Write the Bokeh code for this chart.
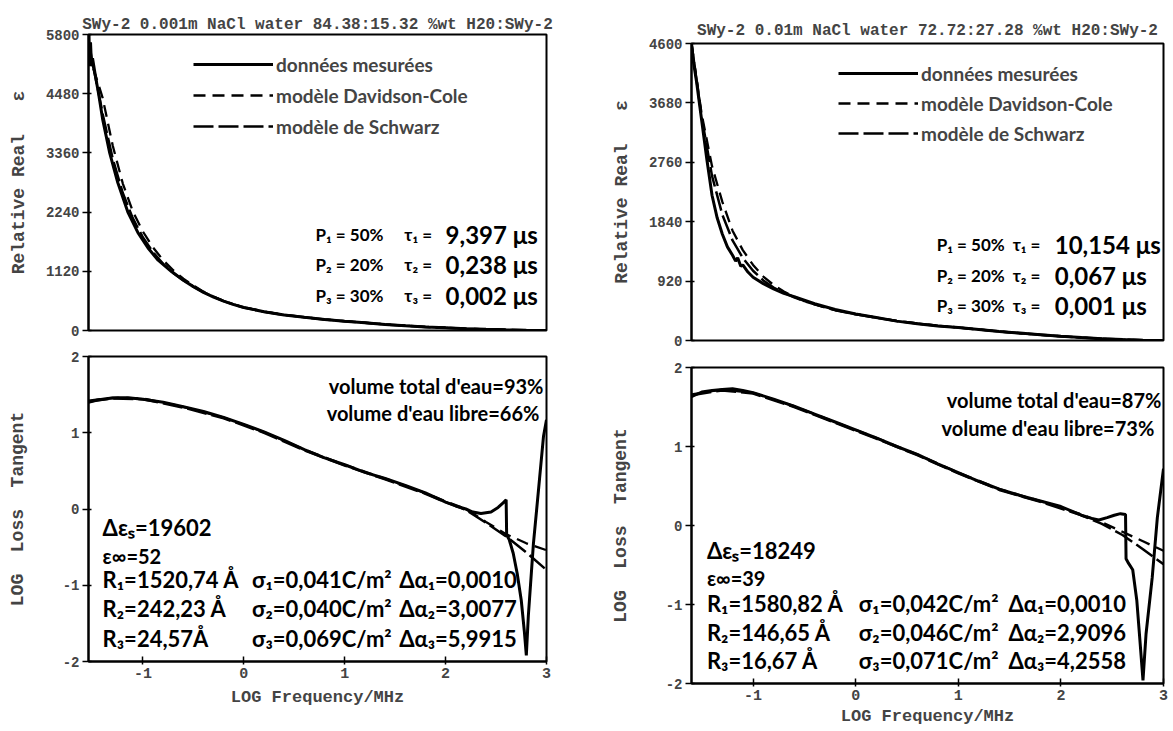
from bokeh.plotting import figure
from bokeh.layouts import row, column
from bokeh.models import FixedTicker, Legend, LegendItem, Label, Range1d
from bokeh.embed import file_html
from bokeh.resources import INLINE

AX_FONT = "Liberation Mono"
TXT_FONT = "Lato"
TXT_STYLE = "bold"

# ------------------------------------------------------------------ data
L_TITLE = "SWy-2 0.001m NaCl water 84.38:15.32 %wt H20:SWy-2"
R_TITLE = "SWy-2 0.01m NaCl water 72.72:27.28 %wt H20:SWy-2"
Y_TOP_LABEL = "Relative Real\u00a0\u00a0\u00a0\u03b5"
Y_BOT_LABEL = "LOG\u00a0\u00a0Loss\u00a0\u00a0Tangent"
X_LABEL = "LOG Frequency/MHz"
SERIES = ["données mesurées", "modèle Davidson-Cole", "modèle de Schwarz"]

X_TICKS = [-1, 0, 1, 2, 3]
X_TICK_LABELS = ["-1", "0", "1", "2", "3"]
LT_Y_TICKS = [0, 1120, 2240, 3360, 4480, 5600]
LT_Y_LABELS = ["0", "1120", "2240", "3360", "4480", "5800"]
RT_Y_TICKS = [0, 920, 1840, 2760, 3680, 4600]
RT_Y_LABELS = ["0", "920", "1840", "2760", "3680", "4600"]
B_Y_TICKS = [-2, -1, 0, 1, 2]
B_Y_LABELS = ["-2", "-1", "0", "1", "2"]

# left / top : relative real permittivity
LT_MEAS_X = [-1.54, -1.535, -1.53, -1.52, -1.51, -1.5, -1.47, -1.44, -1.4, -1.33, -1.25,
             -1.15, -1.05, -0.95, -0.85, -0.72, -0.6, -0.5, -0.4, -0.3, -0.2,
             -0.1, 0.0, 0.2, 0.4, 0.6, 0.8, 1.0, 1.2, 1.4, 1.6, 1.8, 2.0, 2.2, 2.4, 2.6, 2.8, 3.0]
LT_MEAS_Y = [5000, 5600, 5100, 5450, 5000, 5150, 4800, 4480, 4000, 3360, 2800,
             2240, 1850, 1560, 1330, 1120, 950, 830, 720, 630, 555,
             490, 435, 355, 295, 250, 210, 175, 145, 115, 90, 68, 50, 35, 22, 12, 5, 0]
LT_MOD_X = [-1.54, -1.5, -1.44, -1.4, -1.3, -1.2, -1.1, -1.0, -0.9, -0.8, -0.7, -0.6, -0.5,
            -0.4, -0.3, -0.2, -0.1, 0.0, 0.2, 0.4, 0.6, 0.8, 1.0, 1.2, 1.4, 1.6, 1.8, 2.0,
            2.2, 2.4, 2.6, 2.8, 3.0]
LT_DC_Y = [5300, 5000, 4650, 4400, 3500, 2780, 2250, 1870, 1570, 1330, 1140, 980, 850,
           735, 640, 560, 495, 440, 358, 298, 252, 212, 177, 147, 117, 92, 70, 52,
           36, 23, 13, 6, 1]
LT_SW_Y = [5500, 5050, 4500, 4100, 3250, 2600, 2120, 1760, 1480, 1260, 1090, 950, 830,
           725, 635, 555, 490, 435, 355, 295, 250, 210, 175, 145, 115, 90, 68, 50,
           35, 22, 12, 5, 0]

# left / bottom : log loss tangent
LB_MEAS_X = [-1.54, -1.45, -1.35, -1.25, -1.15, -1.0, -0.8, -0.6, -0.4, -0.2, 0.0, 0.2, 0.4,
             0.6, 0.8, 1.0, 1.2, 1.4, 1.6, 1.8, 2.0, 2.1, 2.2, 2.27, 2.35, 2.45, 2.52, 2.57,
             2.6, 2.605, 2.63, 2.67, 2.71, 2.75, 2.78, 2.80, 2.82, 2.87, 2.92, 2.97, 3.0]
LB_MEAS_Y = [1.40, 1.43, 1.45, 1.46, 1.46, 1.44, 1.40, 1.34, 1.28, 1.20, 1.11, 1.01, 0.90,
             0.78, 0.67, 0.58, 0.48, 0.40, 0.31, 0.21, 0.09, 0.04, 0.0, -0.04, -0.06, -0.04,
             0.02, 0.08, 0.12, -0.34, -0.40, -0.58, -0.85, -1.2, -1.6, -1.92, -1.40, -0.46,
             0.24, 0.95, 1.17]
LB_MOD_X = [-1.54, -1.3, -1.0, -0.6, -0.2, 0.2, 0.6, 1.0, 1.4, 1.8, 2.0, 2.2, 2.4, 2.6, 2.8, 3.0]
LB_DC_Y = [1.42, 1.46, 1.45, 1.34, 1.20, 1.01, 0.78, 0.58, 0.40, 0.21, 0.10, 0.0, -0.17, -0.33, -0.45, -0.54]
LB_SW_Y = [1.41, 1.45, 1.44, 1.33, 1.19, 1.00, 0.77, 0.57, 0.39, 0.20, 0.09, -0.01, -0.18, -0.36, -0.57, -0.80]

# right / top
RT_MEAS_X = [-1.6, -1.58, -1.55, -1.5, -1.45, -1.4, -1.35, -1.3, -1.25, -1.2, -1.17, -1.15,
             -1.12, -1.1, -1.05, -1.0, -0.9, -0.8, -0.7, -0.6, -0.4, -0.2, 0.0, 0.2, 0.4,
             0.6, 0.8, 1.0, 1.2, 1.4, 1.6, 1.8, 2.0, 2.2, 2.4, 2.6, 2.8, 3.0]
RT_MEAS_Y = [4600, 4300, 4000, 3400, 2800, 2250, 1900, 1650, 1450, 1320, 1230, 1280,
             1150, 1170, 1060, 980, 880, 800, 730, 680, 570, 480, 410, 355, 300,
             260, 225, 200, 170, 140, 115, 90, 65, 45, 28, 15, 5, 0]
RT_MOD_X = [-1.6, -1.5, -1.4, -1.3, -1.2, -1.1, -1.0, -0.9, -0.8, -0.7, -0.6, -0.5, -0.4,
            -0.2, 0.0, 0.2, 0.4, 0.6, 0.8, 1.0, 1.2, 1.4, 1.6, 1.8, 2.0, 2.2, 2.4, 2.6, 2.8, 3.0]
RT_DC_Y = [4600, 3500, 2700, 2150, 1700, 1400, 1170, 990, 860, 760, 680, 610, 560,
           470, 410, 355, 305, 265, 230, 200, 170, 140, 112, 88, 65, 45, 28, 15, 6, 0]
RT_SW_Y = [4600, 3450, 2550, 1950, 1550, 1280, 1080, 930, 820, 740, 670, 610, 560,
           470, 405, 352, 302, 262, 228, 200, 170, 140, 113, 89, 65, 45, 28, 15, 5, 0]

# right / bottom
RB_MEAS_X = [-1.6, -1.5, -1.4, -1.3, -1.2, -1.1, -1.0, -0.8, -0.6, -0.4, -0.2, 0.0, 0.2,
             0.4, 0.6, 0.8, 1.0, 1.2, 1.4, 1.6, 1.8, 2.0, 2.2, 2.3, 2.37, 2.45, 2.52, 2.58,
             2.63, 2.635, 2.66, 2.70, 2.74, 2.77, 2.80, 2.83, 2.89, 2.94, 3.0]
RB_MEAS_Y = [1.63, 1.69, 1.71, 1.72, 1.73, 1.71, 1.68, 1.60, 1.51, 1.41, 1.31, 1.21, 1.11,
             1.00, 0.90, 0.78, 0.67, 0.56, 0.46, 0.38, 0.31, 0.24, 0.13, 0.09, 0.07, 0.10,
             0.13, 0.15, 0.14, -0.42, -0.48, -0.56, -0.95, -1.45, -1.96, -1.37, -0.66,
             0.10, 0.72]
RB_MOD_X = [-1.6, -1.3, -1.0, -0.6, -0.2, 0.2, 0.6, 1.0, 1.4, 1.8, 2.2, 2.4, 2.6, 2.8, 3.0]
RB_DC_Y = [1.66, 1.72, 1.68, 1.51, 1.31, 1.11, 0.90, 0.67, 0.46, 0.31, 0.14, 0.04, -0.08, -0.20, -0.32]
RB_SW_Y = [1.65, 1.71, 1.67, 1.50, 1.30, 1.10, 0.89, 0.66, 0.45, 0.30, 0.13, 0.02, -0.12, -0.30, -0.49]

# annotation texts
P_TEXT = ["P\u2081 = 50%", "P\u2082 = 20%", "P\u2083 = 30%"]
TAU_TEXT = ["\u03c4\u2081 =", "\u03c4\u2082 =", "\u03c4\u2083 ="]
LT_TAU_VAL = ["9,397 \u03bcs", "0,238 \u03bcs", "0,002 \u03bcs"]
RT_TAU_VAL = ["10,154 \u03bcs", "0,067 \u03bcs", "0,001 \u03bcs"]
LB_VOL = ["volume total d'eau=93%", "volume d'eau libre=66%"]
RB_VOL = ["volume total d'eau=87%", "volume d'eau libre=73%"]
LB_COL1 = ["\u0394\u03b5\u209b=19602", "\u03b5\u221e=52", "R\u2081=1520,74 \u00c5", "R\u2082=242,23 \u00c5", "R\u2083=24,57\u00c5"]
RB_COL1 = ["\u0394\u03b5\u209b=18249", "\u03b5\u221e=39", "R\u2081=1580,82 \u00c5", "R\u2082=146,65 \u00c5", "R\u2083=16,67 \u00c5"]
LB_COL2 = ["\u03c3\u2081=0,041C/m\u00b2", "\u03c3\u2082=0,040C/m\u00b2", "\u03c3\u2083=0,069C/m\u00b2"]
RB_COL2 = ["\u03c3\u2081=0,042C/m\u00b2", "\u03c3\u2082=0,046C/m\u00b2", "\u03c3\u2083=0,071C/m\u00b2"]
LB_COL3 = ["\u0394\u03b1\u2081=0,0010", "\u0394\u03b1\u2082=3,0077", "\u0394\u03b1\u2083=5,9915"]
RB_COL3 = ["\u0394\u03b1\u2081=0,0010", "\u0394\u03b1\u2082=2,9096", "\u0394\u03b1\u2083=4,2558"]


# ------------------------------------------------------------------ helpers
def style(p, yticks, ylabels, ylabel, xaxis, als, xals=2):
    p.grid.visible = False
    p.outline_line_color = "black"
    p.outline_line_width = 2
    p.background_fill_color = "white"
    p.border_fill_color = "white"
    ya = p.yaxis[0]
    ya.ticker = FixedTicker(ticks=yticks)
    ya.major_label_overrides = {t: l for t, l in zip(yticks, ylabels)}
    ya.major_label_text_font = AX_FONT
    ya.major_label_text_font_style = "bold"
    ya.major_label_text_font_size = "14px"
    ya.major_tick_out = 6
    ya.major_tick_in = 3
    ya.major_tick_line_width = 1.5
    ya.minor_tick_line_color = None
    ya.axis_line_width = 2
    ya.major_label_standoff = 3
    ya.axis_label = ylabel
    ya.axis_label_text_font = AX_FONT
    ya.axis_label_text_font_style = "bold"
    ya.axis_label_text_font_size = "18px"
    ya.axis_label_standoff = als
    xa = p.xaxis[0]
    if xaxis:
        xa.ticker = FixedTicker(ticks=X_TICKS)
        xa.major_label_overrides = {t: l for t, l in zip(X_TICKS, X_TICK_LABELS)}
        xa.major_label_text_font = AX_FONT
        xa.major_label_text_font_style = "bold"
        xa.major_label_text_font_size = "15px"
        xa.major_tick_out = 3
        xa.major_tick_in = 5
        xa.major_tick_line_width = 1.5
        xa.minor_tick_line_color = None
        xa.axis_line_width = 2
        xa.major_label_standoff = 3
        xa.axis_label = X_LABEL
        xa.axis_label_text_font = AX_FONT
        xa.axis_label_text_font_style = "bold"
        xa.axis_label_text_font_size = "17px"
        xa.axis_label_standoff = xals
    else:
        xa.visible = False


def curves(p, mx, my, ox, dcy, swy):
    r1 = p.line(mx, my, line_color="black", line_width=3)
    r2 = p.line(ox, dcy, line_color="black", line_width=2.3, line_dash="12 7")
    r3 = p.line(ox, swy, line_color="black", line_width=2.5, line_dash="20 5")
    return [r1, r2, r3]


def label(p, x, y, text, size, align="left"):
    p.add_layout(Label(x=x, y=y, text=text, text_font=TXT_FONT, text_font_size=size,
                       text_font_style=TXT_STYLE, text_color="black",
                       text_align=align, text_baseline="middle"))


def legend(p, rends, x, y, pitch):
    lg = Legend(items=[LegendItem(label=s, renderers=[r]) for s, r in zip(SERIES, rends)],
                location=(x, y), orientation="vertical", padding=0, margin=0,
                spacing=pitch - 26, glyph_width=80, glyph_height=26, label_height=26,
                label_standoff=3, border_line_alpha=0, background_fill_alpha=0,
                label_text_font=TXT_FONT, label_text_font_style=TXT_STYLE,
                label_text_font_size="19px")
    p.add_layout(lg, "center")


def fig(xr, yr, fw, fh, bl, br, bt, bb):
    return figure(x_range=Range1d(*xr), y_range=Range1d(*yr), frame_width=fw, frame_height=fh,
                  min_border_left=bl, min_border_right=br, min_border_top=bt, min_border_bottom=bb,
                  output_backend="svg", toolbar_location=None)


# ------------------------------------------------------------------ left chart
LX = (-1.54, 3.0)
lt = fig(LX, (0, 5600), 458, 296, 88, 10, 34, 10)
style(lt, LT_Y_TICKS, LT_Y_LABELS, Y_TOP_LABEL, False, 14)
lt.title.text = L_TITLE
lt.title.text_font = AX_FONT
lt.title.text_font_style = "bold"
lt.title.text_font_size = "16px"
lt.title.align = "center"
lt.title.standoff = 2
rl = curves(lt, LT_MEAS_X, LT_MEAS_Y, LT_MOD_X, LT_DC_Y, LT_SW_Y)
legend(lt, rl, 105, 191, 31)
for i, yv in enumerate([1814, 1241, 668]):
    label(lt, 0.71, yv, P_TEXT[i], "17px")
    label(lt, 1.59, yv, TAU_TEXT[i], "17px")
    label(lt, 2.0, yv, LT_TAU_VAL[i], "24px")

lb = fig(LX, (-2, 2), 458, 305, 88, 10, 16, 50)
style(lb, B_Y_TICKS, B_Y_LABELS, Y_BOT_LABEL, True, 32, 7)
curves(lb, LB_MEAS_X, LB_MEAS_Y, LB_MOD_X, LB_DC_Y, LB_SW_Y)
label(lb, 2.97, 1.61, LB_VOL[0], "20px", "right")
label(lb, 2.93, 1.26, LB_VOL[1], "20px", "right")
for i, yv in enumerate([-0.24, -0.61, -0.93, -1.30, -1.70]):
    label(lb, -1.40, yv, LB_COL1[i], "22px" if i != 1 else "20px")
for i, yv in enumerate([-0.93, -1.30, -1.70]):
    label(lb, 0.08, yv, LB_COL2[i], "22px")
    label(lb, 1.54, yv, LB_COL3[i], "22px")

# ------------------------------------------------------------------ right chart
RX = (-1.6, 3.0)
rt = fig(RX, (0, 4600), 472, 297, 135, 5, 43, 10)
style(rt, RT_Y_TICKS, RT_Y_LABELS, Y_TOP_LABEL, False, 14)
rt.title.text = R_TITLE
rt.title.text_font = AX_FONT
rt.title.text_font_style = "bold"
rt.title.text_font_size = "16px"
rt.title.align = "center"
rt.title.standoff = 7
rr = curves(rt, RT_MEAS_X, RT_MEAS_Y, RT_MOD_X, RT_DC_Y, RT_SW_Y)
legend(rt, rr, 147, 194, 30)
for i, yv in enumerate([1487, 1000, 538]):
    label(rt, 0.79, yv, P_TEXT[i], "17px")
    label(rt, 1.53, yv, TAU_TEXT[i], "17px")
    label(rt, 1.94, yv, RT_TAU_VAL[i], "24px")

rb = fig(RX, (-2, 2), 472, 316, 135, 5, 17, 44)
style(rb, B_Y_TICKS, B_Y_LABELS, Y_BOT_LABEL, True, 32, 4)
curves(rb, RB_MEAS_X, RB_MEAS_Y, RB_MOD_X, RB_DC_Y, RB_SW_Y)
label(rb, 2.98, 1.59, RB_VOL[0], "20px", "right")
label(rb, 2.91, 1.23, RB_VOL[1], "20px", "right")
for i, yv in enumerate([-0.32, -0.66, -0.99, -1.35, -1.71]):
    label(rb, -1.45, yv, RB_COL1[i], "22px" if i != 1 else "20px")
for i, yv in enumerate([-0.99, -1.35, -1.71]):
    label(rb, 0.03, yv, RB_COL2[i], "22px")
    label(rb, 1.49, yv, RB_COL3[i], "22px")

layout = row(column(lt, lb), column(rt, rb))
open("out.html", "w").write(file_html(layout, INLINE))
